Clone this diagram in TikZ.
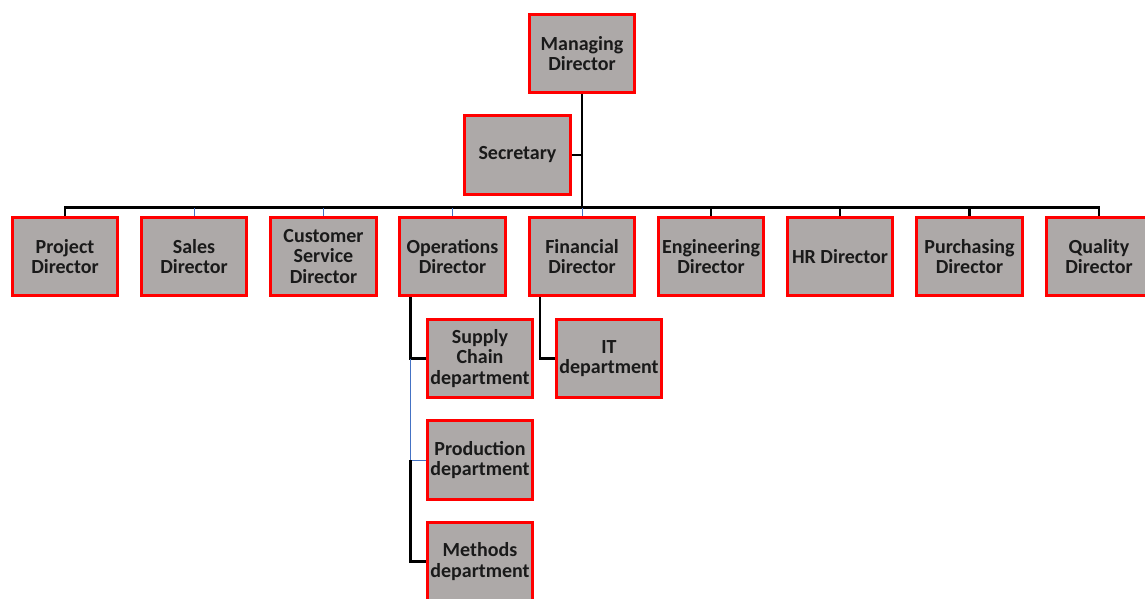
\documentclass[tikz,border=0pt]{standalone}
\usepackage{fontspec}
\setmainfont{Carlito}
\usetikzlibrary{backgrounds}
\definecolor{boxfill}{HTML}{ADA9A8}
\definecolor{boxline}{HTML}{FF0000}
\definecolor{boxtext}{HTML}{1A1A1A}
\definecolor{thinblue}{HTML}{4472C4}
\begin{document}
\begin{tikzpicture}[x=1pt,y=-1pt,
  unit/.style={draw=boxline, fill=boxfill, line width=2.6pt, inner sep=0pt,
    minimum width=105.5pt, minimum height=78.5pt, align=center,
    text=boxtext, font=\fontsize{20}{20.5}\selectfont\bfseries},
  blk/.style={draw=black, line width=2.6pt},
  blu/.style={draw=thinblue, line width=1pt}]
\useasboundingbox (0,0) rectangle (1145,599);

% top level
\node[unit] (md)  at (582,53.5) {Managing\\Director};
\node[unit] (sec) at (517.5,155) {Secretary};

% directors
\node[unit] (proj) at (65,256.5)    {Project\\Director};
\node[unit] (sale) at (194,256.5)   {Sales\\Director};
\node[unit] (cust) at (323.5,256.5) {Customer\\Service\\Director};
\node[unit] (ops)  at (452.5,256.5) {Operations\\Director};
\node[unit] (fin)  at (582,256.5)   {Financial\\Director};
\node[unit] (eng)  at (711,256.5)   {Engineering\\Director};
\node[unit] (hr)   at (840,256.5)   {HR Director};
\node[unit] (pur)  at (969.5,256.5) {Purchasing\\Director};
\node[unit] (qual) at (1099,256.5)  {Quality\\Director};

% departments
\node[unit] (sup)  at (480,358.5) {Supply\\Chain\\department};
\node[unit] (prod) at (480,460)   {Production\\department};
\node[unit] (meth) at (480,561.5) {Methods\\department};
\node[unit] (it)   at (609,358.5) {IT\\department};

\begin{pgfonlayer}{background}
% bus between the top and the directors
\coordinate (bus) at (582,207.5);
\draw[blk] (md.south) -- (bus);
\draw[blk] (sec.east) -- (sec.east -| md.south);
\draw[blk] (proj.north) |- (bus) -| (qual.north);
\foreach \n in {eng,hr,pur}
  \draw[blk] (\n.north) -- (\n.north |- bus);
\foreach \n in {sale,cust,ops,fin}
  \draw[blu] (\n.north) -- (\n.north |- bus);

% operations departments
\coordinate (opsl) at ([xshift=12pt]ops.south west);
\draw[blk] (opsl) |- (sup.west);
\draw[blu] (opsl |- sup.west) |- (prod.west);
\draw[blk] (opsl |- prod.west) |- (meth.west);

% financial department
\coordinate (finl) at ([xshift=12pt]fin.south west);
\draw[blk] (finl) |- (it.west);
\end{pgfonlayer}
\end{tikzpicture}
\end{document}
